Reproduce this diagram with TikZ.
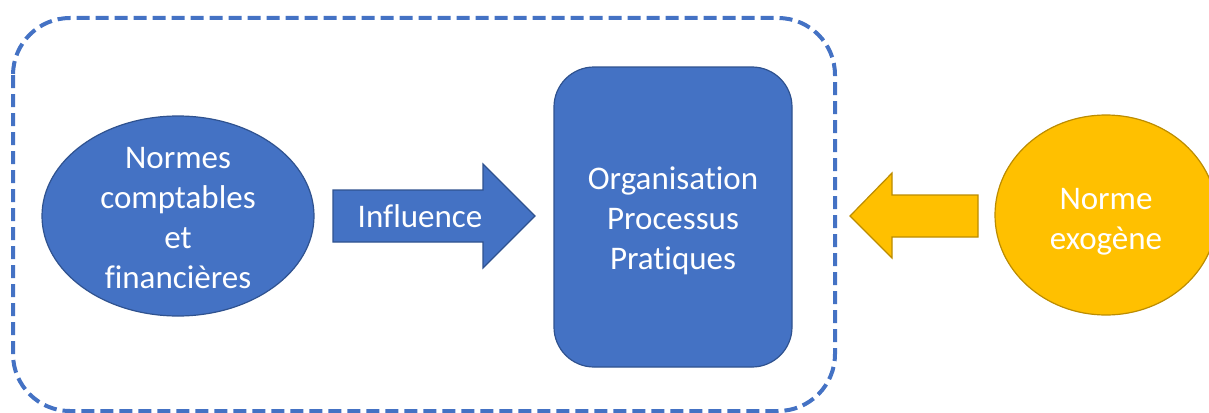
\documentclass[tikz,border=0pt]{standalone}
\usepackage{fontspec}
\setmainfont[Ligatures={NoCommon}]{Carlito}
\usetikzlibrary{shapes.geometric}
\definecolor{blueF}{HTML}{4472C4}
\definecolor{blueD}{HTML}{2F528F}
\definecolor{yelF}{HTML}{FFC000}
\definecolor{yelD}{HTML}{BC8C00}
\begin{document}
\begin{tikzpicture}[x=1pt,y=-1pt,
  txt/.style={text=white,font=\fontsize{33}{40}\selectfont,align=center},
  bluebox/.style={draw=blueD,fill=blueF,line width=1.2pt,inner sep=0pt},
  yelbox/.style={draw=yelD,fill=yelF,line width=1.2pt,inner sep=0pt}]
\useasboundingbox (0,0) rectangle (1209,412);
% dashed frame
\draw[blueF, line width=4pt, dash pattern=on 13pt off 6pt, rounded corners=57pt] (13,18) rectangle (835,411);
% left ellipse
\node[bluebox, ellipse, minimum width=272pt, minimum height=200pt] (nc) at (178,216) {};
\node[txt] (nct) at (178,218.5) {Normes\\comptables\\et\\financières};
% central rounded rectangle
\node[bluebox, rectangle, rounded corners=40pt, minimum width=238pt, minimum height=300pt] (org) at (673,217) {};
\node[txt] (orgt) at (673,220.5) {Organisation\\Processus\\Pratiques};
% right circle
\node[yelbox, ellipse, minimum width=222pt, minimum height=200pt] (ne) at (1106,215) {};
\node[txt] (net) at (1106,222) {Norme\\exogène};
% influence arrow
\draw[bluebox] (333,190) -- (483,190) -- (483,164) -- (535,216) -- (483,268) -- (483,242) -- (333,242) -- cycle;
\node[txt] (infl) at (420,216) {Influence};
% yellow arrow
\draw[yelbox] (978,195) -- (892,195) -- (892,173) -- (850,216) -- (892,258) -- (892,237) -- (978,237) -- cycle;
\end{tikzpicture}
\end{document}
